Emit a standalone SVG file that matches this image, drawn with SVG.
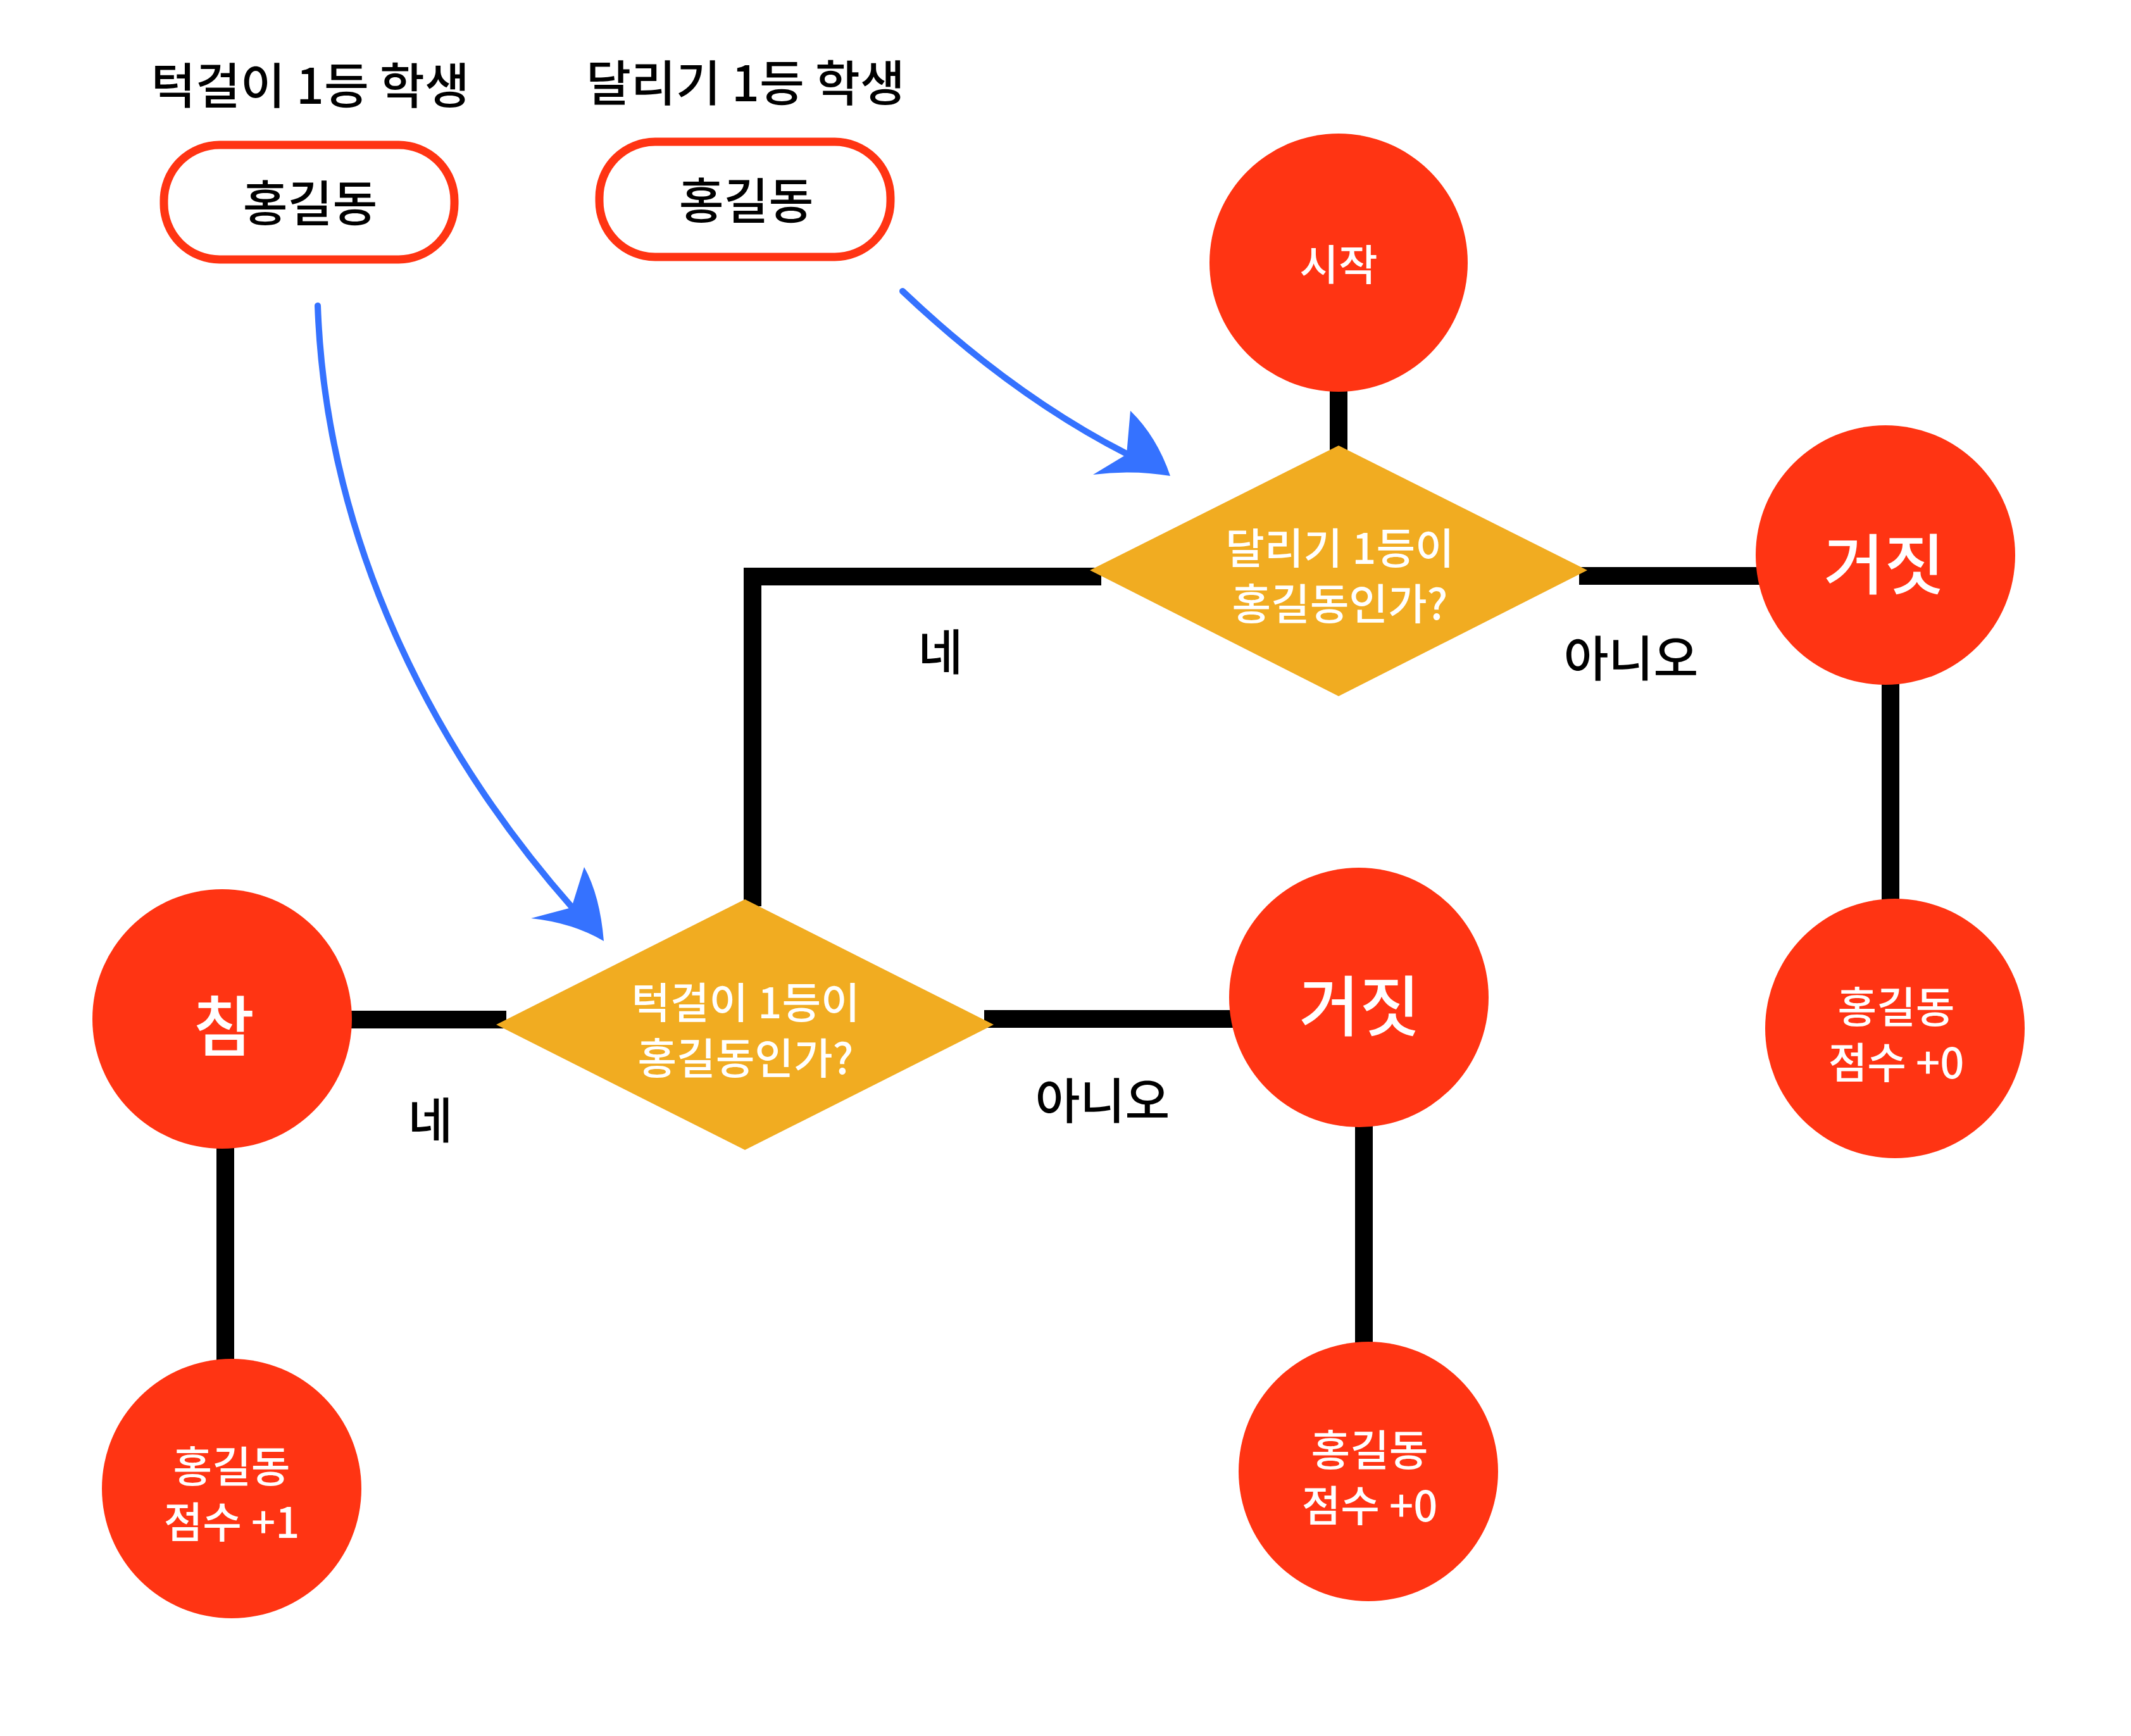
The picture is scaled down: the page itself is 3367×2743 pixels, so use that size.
<svg xmlns="http://www.w3.org/2000/svg" width="3367" height="2743" viewBox="0 0 3367 2743">
<style>
.red{fill:#FF3413}
.dia{fill:#F1AC21}
.box{fill:#fff;stroke:#FF3413;stroke-width:13}
.ln{stroke:#000;stroke-width:28;fill:none;stroke-linejoin:miter}
.blue{stroke:#3572FF;stroke-width:10;fill:none;stroke-linecap:round}
.head{fill:#3572FF}
text{font-family:"Noto Sans CJK KR","Noto Sans",sans-serif;text-anchor:middle;dominant-baseline:central}
.k{fill:#000;font-size:77px;font-weight:500}
.w{fill:#fff;font-size:67px;font-weight:500}
.big{fill:#fff;font-size:104px;font-weight:500}
</style>
<rect width="3367" height="2743" fill="#fff"/>
<g id="connectors">
<line class="ln" x1="2115" y1="612" x2="2115" y2="715"/>
<line class="ln" x1="2495" y1="910" x2="2785" y2="910"/>
<line class="ln" x1="2987" y1="1075" x2="2987" y2="1428"/>
<polyline class="ln" points="1740,911 1189,911 1189,1432"/>
<line class="ln" x1="545" y1="1611" x2="800" y2="1611"/>
<line class="ln" x1="1555" y1="1610" x2="1950" y2="1610"/>
<line class="ln" x1="2155" y1="1775" x2="2155" y2="2128"/>
<line class="ln" x1="356" y1="1808" x2="356" y2="2155"/>
<path class="blue" d="M502,483 C515,850 680,1180 905,1435"/>
<path class="head" d="M954,1487 Q948,1415 923,1370 L903,1434 L839,1451 Q905,1458 954,1487 Z"/>
<path class="blue" d="M1426,460 Q1600,625 1782,718"/>
<path class="head" d="M1849,752 Q1828,690 1786,649 L1780,718 L1727,750 Q1790,742 1849,752 Z"/>
</g>
<g id="label-chinup"><text class="k" x="490" y="130" font-size="79">턱걸이 1등 학생</text></g>
<g id="label-run"><text class="k" x="1178" y="126" font-size="79">달리기 1등 학생</text></g>
<g id="box-chinup"><rect class="box" x="259" y="229" width="459" height="181" rx="88"/><text class="k" x="490" y="316">홍길동</text></g>
<g id="box-run"><rect class="box" x="947" y="224" width="460" height="182" rx="88"/><text class="k" x="1179" y="312">홍길동</text></g>
<g id="start"><circle class="red" cx="2115" cy="415" r="204"/><text class="w" x="2115" y="413" font-size="72">시작</text></g>
<g id="decision-run"><polygon class="dia" points="2115,704 2508,901 2115,1100 1722,901"/><text class="w" x="2117" y="861">달리기 1등이</text><text class="w" x="2117" y="949">홍길동인가?</text></g>
<g id="false-top"><circle class="red" cx="2979" cy="877" r="205"/><text class="big" x="2977" y="885">거짓</text></g>
<g id="label-no-top"><text class="k" x="2577" y="1035">아니오</text></g>
<g id="label-yes-top"><text class="k" x="1486" y="1025">네</text></g>
<g id="score-right"><circle class="red" cx="2994" cy="1625" r="205"/><text class="w" x="2996" y="1586">홍길동</text><text class="w" x="2996" y="1674">점수 +0</text></g>
<g id="decision-chinup"><polygon class="dia" points="1177,1421 1570,1619 1177,1817 784,1619"/><text class="w" x="1178" y="1579">턱걸이 1등이</text><text class="w" x="1178" y="1667">홍길동인가?</text></g>
<g id="true"><circle class="red" cx="351" cy="1610" r="205"/><text class="big" x="354" y="1615">참</text></g>
<g id="label-yes-bottom"><text class="k" x="680" y="1765">네</text></g>
<g id="false-mid"><circle class="red" cx="2147" cy="1576" r="205"/><text class="big" x="2148" y="1583">거짓</text></g>
<g id="label-no-mid"><text class="k" x="1742" y="1734">아니오</text></g>
<g id="score-mid"><circle class="red" cx="2162" cy="2325" r="205"/><text class="w" x="2164" y="2286">홍길동</text><text class="w" x="2164" y="2374">점수 +0</text></g>
<g id="score-left"><circle class="red" cx="366" cy="2352" r="205"/><text class="w" x="366" y="2312">홍길동</text><text class="w" x="366" y="2400">점수 +1</text></g>
</svg>
